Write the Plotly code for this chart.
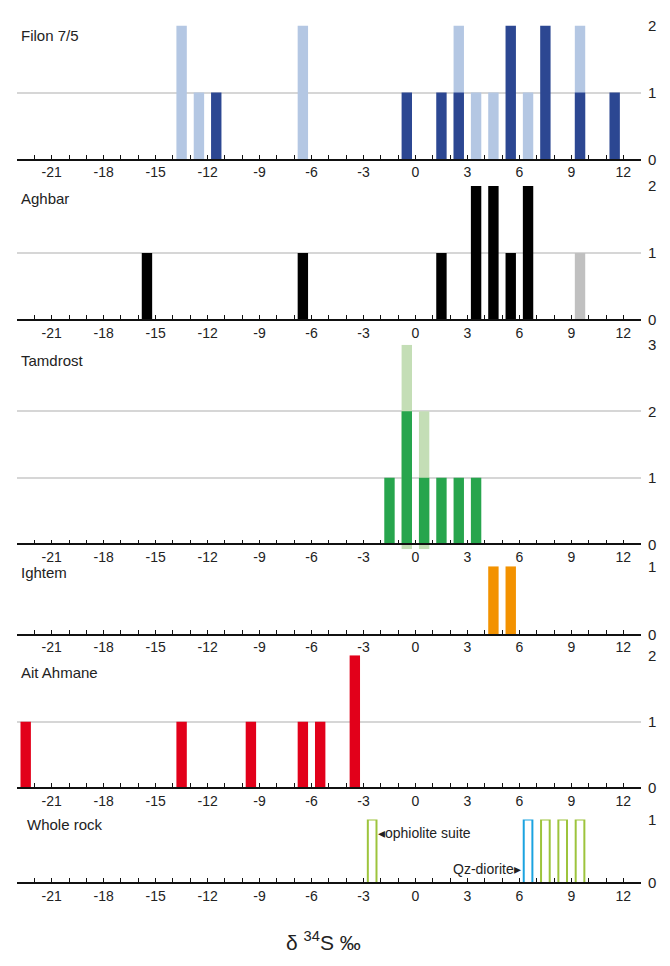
import plotly.graph_objects as go

# ---------------- data ----------------
filon_dark_x = [-11.5, -0.5, 1.5, 2.5, 5.5, 7.5, 9.5, 11.5]
filon_dark_n = [1, 1, 1, 1, 2, 2, 1, 1]
filon_light_x = [-13.5, -12.5, -6.5, 2.5, 3.5, 4.5, 6.5, 9.5]
filon_light_n = [2, 1, 2, 1, 1, 1, 1, 1]

aghbar_x = [-15.5, -6.5, 1.5, 3.5, 4.5, 5.5, 6.5]
aghbar_n = [1, 1, 1, 2, 2, 1, 2]
aghbar_gray_x = [9.5]
aghbar_gray_n = [1]

tamdrost_dark_x = [-1.5, -0.5, 0.5, 1.5, 2.5, 3.5]
tamdrost_dark_n = [1, 2, 1, 1, 1, 1]
tamdrost_light_x = [-0.5, 0.5]
tamdrost_light_n = [1, 1]

ightem_x = [4.5, 5.5]
ightem_n = [1, 1]

ait_x = [-22.5, -13.5, -9.5, -6.5, -5.5, -3.5]
ait_n = [1, 1, 1, 1, 1, 2]

wr_ophiolite_x = [-2.5, 7.5, 8.5, 9.5]
wr_ophiolite_n = [1, 1, 1, 1]
wr_diorite_x = [6.5]
wr_diorite_n = [1]

panel_names = ["Filon 7/5", "Aghbar", "Tamdrost", "Ightem", "Ait Ahmane", "Whole rock"]
panel_max = [2, 2, 3, 1, 2, 1]
x_tickvals = [-21, -18, -15, -12, -9, -6, -3, 0, 3, 6, 9, 12]
x_ticktext = ["-21", "-18", "-15", "-12", "-9", "-6", "-3", "0", "3", "6", "9", "12"]

# ---------------- layout helpers ----------------
# The html body has an 8px default margin: the figure is made 16px smaller
# and all screen positions are shifted by that margin.
OFF = 8
W, H = 670 - 2 * OFF, 966 - 2 * OFF


def fx(px):   # screen px -> paper x
    return (px - OFF) / W


def fy(py):   # screen py -> paper y
    return 1 - (py - OFF) / H


X0, X1 = 16.7, 641.0            # screen extent of plotting area
# (zero line, top gridline) screen px per panel
panel_px = [(153.3, 16.7), (316.7, 180.0), (545.0, 341.7),
            (637.0, 567.3), (793.3, 658.0), (890.0, 825.0)]
label_px = [(19, 27), (19, 193), (19, 358), (19, 574), (19, 675), (25, 830)]
BELOW = [0, 0, 5, 0, 0, 0]      # px the plot area extends below the zero line

FONT = "Liberation Sans Narrow, Arial Narrow, Liberation Sans, Arial, sans-serif"


def stacked(base_x, base_n, top_x, top_n):
    tot = dict(zip(base_x, base_n))
    for x, n in zip(top_x, top_n):
        tot[x] = tot.get(x, 0) + n
    return top_x, [tot[x] for x in top_x]


filon_tot_x, filon_tot_n = stacked(filon_dark_x, filon_dark_n, filon_light_x, filon_light_n)
tam_tot_x, tam_tot_n = stacked(tamdrost_dark_x, tamdrost_dark_n, tamdrost_light_x, tamdrost_light_n)

fig = go.Figure()

# (panel, x, y, color, outline, extends below zero)
traces = [
    (0, filon_tot_x, filon_tot_n, "#B4C7E3", False, False),
    (0, filon_dark_x, filon_dark_n, "#2C4792", False, False),
    (1, aghbar_x, aghbar_n, "#000000", False, False),
    (1, aghbar_gray_x, aghbar_gray_n, "#C0C0C0", False, False),
    (2, tam_tot_x, tam_tot_n, "#C4DEB6", False, True),
    (2, tamdrost_dark_x, tamdrost_dark_n, "#27A54D", False, False),
    (3, ightem_x, ightem_n, "#F39200", False, False),
    (4, ait_x, ait_n, "#E2001A", False, False),
    (5, wr_ophiolite_x, wr_ophiolite_n, "#9DC43C", True, False),
    (5, wr_diorite_x, wr_diorite_n, "#1BA3E0", True, False),
]

for p, xs, ys, col, outline, below in traces:
    sfx = "" if p == 0 else str(p + 1)
    if outline:
        marker = dict(color="rgba(255,255,255,0)", line=dict(color=col, width=2))
        width = 0.5
    else:
        marker = dict(color=col, line=dict(width=0))
        width = 0.6
    kw = {}
    if below:
        ybot, ytop = panel_px[p]
        off = BELOW[p] * panel_max[p] / (ybot - ytop)
        kw = dict(base=-off, y=[v + off for v in ys])
    else:
        kw = dict(y=ys)
    fig.add_trace(go.Bar(x=xs, marker=marker, width=width,
                         xaxis="x" + sfx, yaxis="y" + sfx, showlegend=False, **kw))

layout = dict(
    width=W, height=H, barmode="overlay",
    margin=dict(l=0, r=0, t=0, b=0),
    paper_bgcolor="white", plot_bgcolor="white",
    showlegend=False,
)

annotations = []
for p in range(6):
    sfx = "" if p == 0 else str(p + 1)
    ybot, ytop = panel_px[p]
    unit = (ybot - ytop) / panel_max[p]
    ymin = -BELOW[p] / unit
    layout["xaxis" + sfx] = dict(
        domain=[fx(X0), fx(X1)], range=[-23.02, 13.02],
        anchor="free", position=fy(ybot),
        tickmode="array", tickvals=x_tickvals, ticktext=x_ticktext,
        ticks="inside", ticklen=4, tickwidth=1.3, tickcolor="#111",
        minor=dict(dtick=1, tick0=0, ticks="inside", ticklen=4, tickwidth=1.3, tickcolor="#111"),
        showline=True, linecolor="#111", linewidth=1.5,
        showgrid=False, zeroline=False,
        tickfont=dict(family=FONT, size=14, color="#222"),
        fixedrange=True,
    )
    layout["yaxis" + sfx] = dict(
        domain=[fy(ybot + BELOW[p]), fy(ytop)], range=[ymin, panel_max[p]],
        anchor="x" + sfx, side="right",
        tickmode="linear", tick0=0, dtick=1,
        showgrid=True, gridcolor="#D6D6D6", gridwidth=1.5,
        zeroline=False, showline=False, ticks="",
        ticklabelstandoff=6,
        tickfont=dict(family=FONT, size=15, color="#222"),
        fixedrange=True,
    )
    lx, ly = label_px[p]
    annotations.append(dict(
        text=panel_names[p], xref="paper", yref="paper",
        x=fx(lx), y=fy(ly), xanchor="left", yanchor="middle",
        showarrow=False, font=dict(family=FONT, size=15, color="#222")))

# whole-rock labels
annotations.append(dict(
    text="◂ophiolite suite", xref="x6", yref="y6", x=-2.27, y=0.78,
    xanchor="left", yanchor="middle", showarrow=False,
    font=dict(family=FONT, size=14, color="#222")))
annotations.append(dict(
    text="Qz-diorite▸", xref="x6", yref="y6", x=6.2, y=0.23,
    xanchor="right", yanchor="middle", showarrow=False,
    font=dict(family=FONT, size=14, color="#222")))

# axis title
annotations.append(dict(
    text="δ <sup>34</sup>S ‰", xref="paper", yref="paper",
    x=fx(323), y=fy(949), xanchor="center", yanchor="middle",
    showarrow=False, font=dict(family="Liberation Sans, Arial, sans-serif", size=21, color="#222")))

layout["annotations"] = annotations
fig.update_layout(**layout)

fig.write_html("out.html")
